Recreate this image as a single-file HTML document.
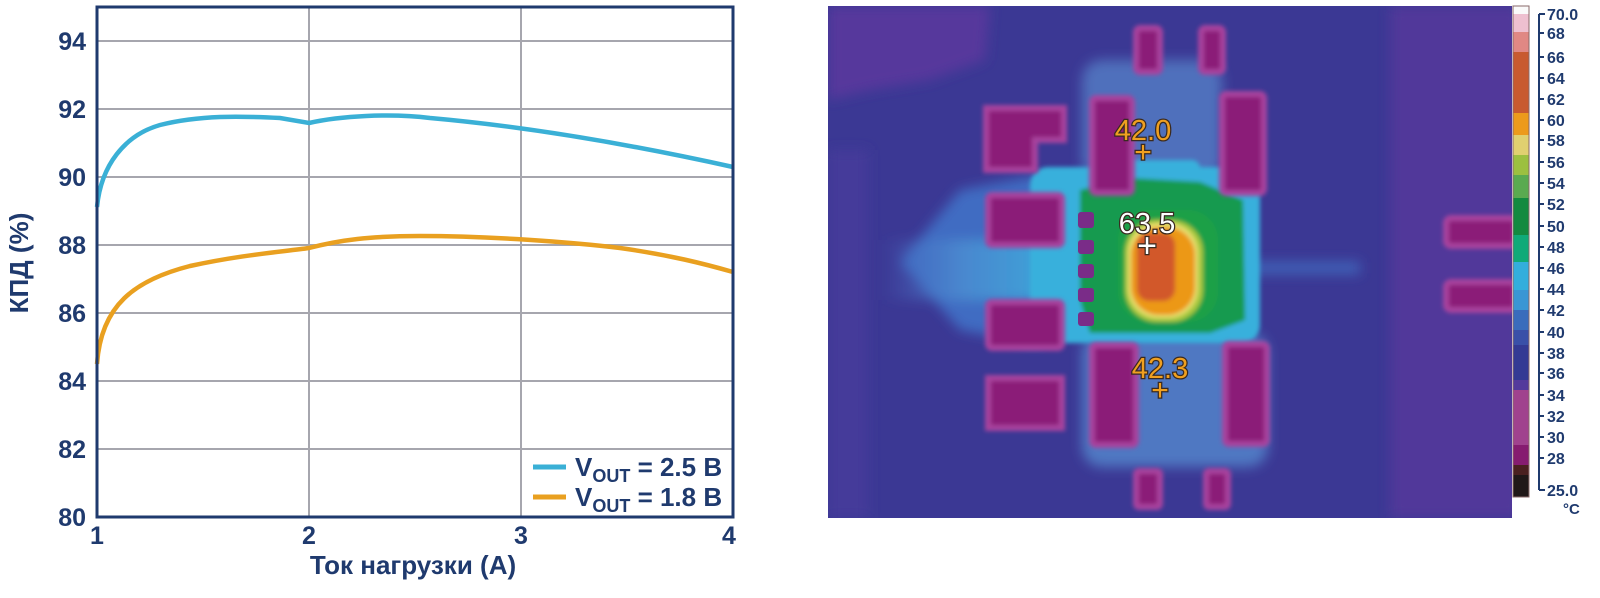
<!DOCTYPE html>
<html><head><meta charset="utf-8"><style>
html,body{margin:0;padding:0;background:#fff;}
svg{display:block;}
.t{font-family:"Liberation Sans Narrow","Liberation Sans",sans-serif;font-weight:bold;fill:#1f3a6e;}
</style></head><body>
<svg width="1600" height="598" viewBox="0 0 1600 598" xmlns="http://www.w3.org/2000/svg">
<defs>
<filter id="b1" x="-20%" y="-20%" width="140%" height="140%"><feGaussianBlur stdDeviation="2"/></filter>
<filter id="b2" x="-30%" y="-30%" width="160%" height="160%"><feGaussianBlur stdDeviation="6"/></filter>
<linearGradient id="streak" x1="0" x2="1" y1="0" y2="0">
<stop offset="0" stop-color="#4a68c0" stop-opacity="0"/><stop offset="0.4" stop-color="#4a8ad0" stop-opacity="0.9"/><stop offset="1" stop-color="#3aaedc"/></linearGradient>
</defs>
<!-- ===== Chart ===== -->
<g stroke="#a6a6ae" stroke-width="2">
<line x1="97" y1="41" x2="733" y2="41"/><line x1="97" y1="109" x2="733" y2="109"/>
<line x1="97" y1="177" x2="733" y2="177"/><line x1="97" y1="245" x2="733" y2="245"/>
<line x1="97" y1="313" x2="733" y2="313"/><line x1="97" y1="381" x2="733" y2="381"/>
<line x1="97" y1="449" x2="733" y2="449"/>
<line x1="309" y1="7" x2="309" y2="517"/><line x1="521" y1="7" x2="521" y2="517"/>
</g>
<path d="M97,207 C101,165 125,135 160,125 C200,115 240,116 280,118 L309,123 C340,116 390,113 430,118 C520,126 620,142 733,167" fill="none" stroke="#3ab0d6" stroke-width="4.5"/>
<path d="M97,364 C101,305 135,280 190,266 C240,255 280,252 309,248 C340,240 370,236 420,236 C490,236 570,242 620,248 C670,255 705,264 733,272" fill="none" stroke="#e9a020" stroke-width="4.5"/>
<rect x="97" y="7" width="636" height="510" fill="none" stroke="#1f3a6e" stroke-width="3"/>
<g class="t" font-size="25" text-anchor="end">
<text x="86" y="50">94</text><text x="86" y="118">92</text><text x="86" y="186">90</text>
<text x="86" y="254">88</text><text x="86" y="322">86</text><text x="86" y="390">84</text>
<text x="86" y="458">82</text><text x="86" y="526">80</text>
</g>
<g class="t" font-size="25" text-anchor="middle">
<text x="97" y="544">1</text><text x="309" y="544">2</text><text x="521" y="544">3</text><text x="729" y="544">4</text>
<text x="413" y="574" font-size="26">Ток нагрузки (A)</text>
<text transform="translate(28,263) rotate(-90)" font-size="26">КПД (%)</text>
</g>
<line x1="533" y1="467" x2="566" y2="467" stroke="#3ab0d6" stroke-width="5"/>
<line x1="533" y1="497" x2="566" y2="497" stroke="#e9a020" stroke-width="5"/>
<g class="t" font-size="26">
<text x="575" y="476">V<tspan font-size="18" dy="6">OUT</tspan><tspan dy="-6"> = 2.5 В</tspan></text>
<text x="575" y="506">V<tspan font-size="18" dy="6">OUT</tspan><tspan dy="-6"> = 1.8 В</tspan></text>
</g>

<!-- ===== Thermal image ===== -->
<svg x="828" y="6" width="684" height="512" viewBox="828 6 684 512" overflow="hidden">
<rect x="828" y="6" width="684" height="512" fill="#3b3894"/>
<g filter="url(#b2)">
<path d="M828,6 L990,6 L985,60 L930,80 L870,90 L828,100Z" fill="#56399c"/>
<rect x="1390" y="6" width="130" height="512" fill="#51389a"/>
<rect x="828" y="150" width="40" height="368" fill="#443a9a"/>
<path d="M900,262 L960,190 L1040,175 L1040,345 L960,330Z" fill="#3f6cc2"/>
<rect x="880" y="240" width="200" height="60" fill="url(#streak)"/>
<rect x="1060" y="262" width="300" height="12" fill="#3f62b8"/>
<rect x="1082" y="60" width="140" height="120" rx="20" fill="#5070bc"/>
<rect x="1082" y="333" width="186" height="134" rx="20" fill="#5078c2"/>
</g>
<g filter="url(#b1)">
<rect x="1030" y="167" width="230" height="176" rx="18" fill="#38b0dc"/>
<rect x="1100" y="160" width="100" height="20" rx="8" fill="#38b0dc"/>
<path d="M1080,190 L1130,178 L1200,182 L1243,200 L1245,320 L1210,333 L1090,333 L1080,300Z" fill="#169a50"/>
<rect x="1118" y="210" width="100" height="112" rx="30" fill="#1fa046"/>
<rect x="1125" y="220" width="78" height="102" rx="32" fill="#a8c83c"/>
<rect x="1128" y="223" width="70" height="95" rx="30" fill="#e8e070"/>
<rect x="1131" y="227" width="64" height="88" rx="28" fill="#ec9818"/>
<rect x="1137" y="233" width="38" height="68" rx="12" fill="#d2592c"/>
</g>
<g filter="url(#b1)" fill="#8b1e78" stroke="#a8429e" stroke-width="6">
<path d="M986,108 L1064,108 L1064,140 L1035,140 L1035,170 L986,170Z"/>
<rect x="988" y="195" width="74" height="50" rx="4"/>
<rect x="988" y="302" width="74" height="46" rx="4"/>
<path d="M988,378 L1062,378 L1062,428 L988,428Z"/>
<rect x="1092" y="98" width="40" height="95" rx="4"/>
<rect x="1222" y="94" width="42" height="99" rx="4"/>
<rect x="1092" y="345" width="44" height="100" rx="4"/>
<rect x="1225" y="344" width="42" height="100" rx="4"/>
<rect x="1136" y="28" width="24" height="44" rx="4"/>
<rect x="1201" y="28" width="22" height="44" rx="4"/>
<rect x="1136" y="471" width="24" height="36" rx="3"/>
<rect x="1206" y="471" width="22" height="36" rx="3"/>
<rect x="1446" y="218" width="70" height="28" rx="5"/>
<rect x="1446" y="282" width="70" height="28" rx="5"/>
</g>
<g fill="#7a2c88">
<rect x="1078" y="212" width="16" height="16" rx="3"/><rect x="1078" y="240" width="16" height="14" rx="3"/>
<rect x="1078" y="264" width="16" height="14" rx="3"/><rect x="1078" y="288" width="16" height="14" rx="3"/>
<rect x="1078" y="312" width="16" height="14" rx="3"/>
</g>
<g font-family="'Liberation Sans Narrow','Liberation Sans',sans-serif" font-size="29" text-anchor="middle" stroke="#3a2a20" stroke-width="2.5" paint-order="stroke">
<text x="1143" y="140" fill="#f0a020">42.0</text>
<text x="1143" y="162" fill="#f0a020" font-size="30">+</text>
<text x="1147" y="233" fill="#ffffff">63.5</text>
<text x="1147" y="257" fill="#ffffff" font-size="34">+</text>
<text x="1160" y="378" fill="#f0a020">42.3</text>
<text x="1160" y="400" fill="#f0a020" font-size="30">+</text>
</g>
</svg>
<!-- colorbar -->
<g>
<rect x="1513" y="6" width="16" height="8" fill="#fafafa"/>
<rect x="1513" y="14" width="16" height="18" fill="#eec0d0"/>
<rect x="1513" y="32" width="16" height="20" fill="#e08884"/>
<rect x="1513" y="52" width="16" height="61" fill="#c85a30"/>
<rect x="1513" y="113" width="16" height="22" fill="#ec9a1c"/>
<rect x="1513" y="135" width="16" height="20" fill="#e0d070"/>
<rect x="1513" y="155" width="16" height="20" fill="#9cc040"/>
<rect x="1513" y="175" width="16" height="23" fill="#5aaa50"/>
<rect x="1513" y="198" width="16" height="37" fill="#138a40"/>
<rect x="1513" y="235" width="16" height="27" fill="#10aa78"/>
<rect x="1513" y="262" width="16" height="28" fill="#33aedc"/>
<rect x="1513" y="290" width="16" height="20" fill="#3a96d4"/>
<rect x="1513" y="310" width="16" height="20" fill="#3a6cbc"/>
<rect x="1513" y="330" width="16" height="15" fill="#3a50a8"/>
<rect x="1513" y="345" width="16" height="35" fill="#343a94"/>
<rect x="1513" y="380" width="16" height="10" fill="#543a9c"/>
<rect x="1513" y="390" width="16" height="55" fill="#a0428e"/>
<rect x="1513" y="445" width="16" height="20" fill="#861c70"/>
<rect x="1513" y="465" width="16" height="10" fill="#4a2020"/>
<rect x="1513" y="475" width="16" height="22" fill="#201818"/>
<rect x="1513" y="6" width="16" height="491" fill="none" stroke="#8a6a6a" stroke-width="1"/>
</g>
<g stroke="#1f3a6e" stroke-width="2">
<line x1="1539" y1="14" x2="1539" y2="490"/>
<line x1="1539" y1="14" x2="1545" y2="14"/><line x1="1539" y1="490" x2="1545" y2="490"/>
<line x1="1539" y1="33" x2="1544" y2="33"/><line x1="1539" y1="57" x2="1544" y2="57"/>
<line x1="1539" y1="78" x2="1544" y2="78"/><line x1="1539" y1="99" x2="1544" y2="99"/>
<line x1="1539" y1="120" x2="1544" y2="120"/><line x1="1539" y1="140" x2="1544" y2="140"/>
<line x1="1539" y1="162" x2="1544" y2="162"/><line x1="1539" y1="183" x2="1544" y2="183"/>
<line x1="1539" y1="204" x2="1544" y2="204"/><line x1="1539" y1="226" x2="1544" y2="226"/>
<line x1="1539" y1="247" x2="1544" y2="247"/><line x1="1539" y1="268" x2="1544" y2="268"/>
<line x1="1539" y1="289" x2="1544" y2="289"/><line x1="1539" y1="310" x2="1544" y2="310"/>
<line x1="1539" y1="332" x2="1544" y2="332"/><line x1="1539" y1="353" x2="1544" y2="353"/>
<line x1="1539" y1="373" x2="1544" y2="373"/><line x1="1539" y1="395" x2="1544" y2="395"/>
<line x1="1539" y1="416" x2="1544" y2="416"/><line x1="1539" y1="437" x2="1544" y2="437"/>
<line x1="1539" y1="458" x2="1544" y2="458"/>
</g>
<g class="t" font-size="16">
<text x="1547" y="20">70.0</text><text x="1547" y="39">68</text><text x="1547" y="63">66</text>
<text x="1547" y="84">64</text><text x="1547" y="105">62</text><text x="1547" y="126">60</text>
<text x="1547" y="146">58</text><text x="1547" y="168">56</text><text x="1547" y="189">54</text>
<text x="1547" y="210">52</text><text x="1547" y="232">50</text><text x="1547" y="253">48</text>
<text x="1547" y="274">46</text><text x="1547" y="295">44</text><text x="1547" y="316">42</text>
<text x="1547" y="338">40</text><text x="1547" y="359">38</text><text x="1547" y="379">36</text>
<text x="1547" y="401">34</text><text x="1547" y="422">32</text><text x="1547" y="443">30</text>
<text x="1547" y="464">28</text><text x="1547" y="496">25.0</text>
<text x="1563" y="514" font-size="15">°C</text>
</g>
</svg>
</body></html>
